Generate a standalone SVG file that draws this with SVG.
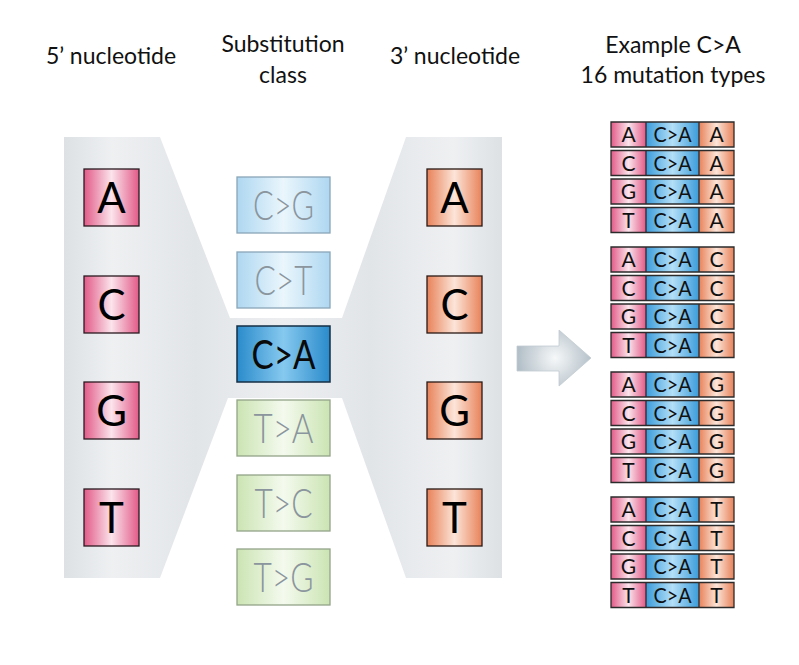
<svg xmlns="http://www.w3.org/2000/svg" width="799" height="665" viewBox="0 0 799 665">
<defs>
<linearGradient id="bg" gradientUnits="userSpaceOnUse" x1="64" y1="0" x2="502" y2="0">
<stop offset="0" stop-color="#dde1e4"/>
<stop offset="0.11" stop-color="#eef0f2"/>
<stop offset="0.3" stop-color="#e2e5e8"/>
<stop offset="0.5" stop-color="#eceef0"/>
<stop offset="0.7" stop-color="#e2e5e8"/>
<stop offset="0.89" stop-color="#eef0f2"/>
<stop offset="1" stop-color="#dde1e4"/>
</linearGradient>
<linearGradient id="pink" x1="0" y1="0" x2="1" y2="0">
<stop offset="0" stop-color="#e25a87"/>
<stop offset="0.5" stop-color="#fbe4ec"/>
<stop offset="1" stop-color="#e25a87"/>
</linearGradient>
<linearGradient id="orange" x1="0" y1="0" x2="1" y2="0">
<stop offset="0" stop-color="#e8825a"/>
<stop offset="0.5" stop-color="#fce5d8"/>
<stop offset="1" stop-color="#e8825a"/>
</linearGradient>
<linearGradient id="lblue" x1="0" y1="0" x2="1" y2="0">
<stop offset="0" stop-color="#aed7f1"/>
<stop offset="0.5" stop-color="#eaf6fc"/>
<stop offset="1" stop-color="#aed7f1"/>
</linearGradient>
<linearGradient id="dblue" x1="0" y1="0" x2="1" y2="0">
<stop offset="0" stop-color="#2a8bcb"/>
<stop offset="0.5" stop-color="#86c9ef"/>
<stop offset="1" stop-color="#2a8bcb"/>
</linearGradient>
<linearGradient id="green" x1="0" y1="0" x2="1" y2="0">
<stop offset="0" stop-color="#cbe4b3"/>
<stop offset="0.5" stop-color="#f4faee"/>
<stop offset="1" stop-color="#cbe4b3"/>
</linearGradient>
<linearGradient id="tblue" x1="0" y1="0" x2="1" y2="0">
<stop offset="0" stop-color="#3b9cda"/>
<stop offset="0.5" stop-color="#b3dff7"/>
<stop offset="1" stop-color="#3b9cda"/>
</linearGradient>
<radialGradient id="arr" gradientUnits="userSpaceOnUse" cx="555" cy="358" r="40">
<stop offset="0" stop-color="#f6f8f9"/>
<stop offset="1" stop-color="#aebbc4"/>
</radialGradient>
</defs>
<style>
.title{font-family:"Lato","Open Sans","Liberation Sans",sans-serif;font-size:23px;fill:#111;text-anchor:middle}
.big{font-family:"Lato","Open Sans","Liberation Sans",sans-serif;font-size:42px;fill:#000;text-anchor:middle}
.sub{font-family:"Lato","Open Sans","Liberation Sans",sans-serif;font-weight:300;font-size:41px;fill:#8a959d;text-anchor:middle}
.subA{font-family:"Lato","Open Sans","Liberation Sans",sans-serif;font-size:41px;fill:#0a0a0a;text-anchor:middle}
.tt{font-family:"Lato","Open Sans","Liberation Sans",sans-serif;font-size:21px;fill:#111;text-anchor:middle}
.p{fill:url(#pink);stroke:#2a1a20;stroke-width:1.3}
.o{fill:url(#orange);stroke:#2a1a15;stroke-width:1.3}
.lb{fill:url(#lblue);stroke:#8aa5b8;stroke-width:1.3}
.db{fill:url(#dblue);stroke:#152f45;stroke-width:1.5}
.g{fill:url(#green);stroke:#93a488;stroke-width:1.3}
.tp{fill:url(#pink)}
.to{fill:url(#orange)}
.tb{fill:url(#tblue)}
.frame{fill:none;stroke:#2b2b2b;stroke-width:1.3}
</style>
<rect width="799" height="665" fill="#ffffff"/>
<polygon id="background" points="64,137 160,137 230,318 342,318 406,137 502,137 502,578 406,578 342,398 228,398 160,578 64,578" fill="url(#bg)"/>
<g id="titles">
<text class="title" x="111" y="64">5’ nucleotide</text>
<text class="title" x="283" y="52">Substitution</text>
<text class="title" x="283" y="83">class</text>
<text class="title" x="455" y="64">3’ nucleotide</text>
<text class="title" x="673" y="53">Example C&gt;A</text>
<text class="title" x="673" y="83">16 mutation types</text>
</g>
<g id="five-prime">
<g id="n5A"><rect class="p" x="84" y="169" width="55" height="57"/><text class="big" x="111.5" y="213">A</text></g>
<g id="n5C"><rect class="p" x="84" y="276" width="55" height="57"/><text class="big" x="111.5" y="320">C</text></g>
<g id="n5G"><rect class="p" x="84" y="382" width="55" height="57"/><text class="big" x="111.5" y="426">G</text></g>
<g id="n5T"><rect class="p" x="84" y="489" width="55" height="57"/><text class="big" x="111.5" y="533">T</text></g>
</g>
<g id="three-prime">
<g id="n3A"><rect class="o" x="427" y="169" width="55" height="57"/><text class="big" x="454.5" y="213">A</text></g>
<g id="n3C"><rect class="o" x="427" y="276" width="55" height="57"/><text class="big" x="454.5" y="320">C</text></g>
<g id="n3G"><rect class="o" x="427" y="382" width="55" height="57"/><text class="big" x="454.5" y="426">G</text></g>
<g id="n3T"><rect class="o" x="427" y="489" width="55" height="57"/><text class="big" x="454.5" y="533">T</text></g>
</g>
<g id="substitutions">
<g id="sCG"><rect class="lb" x="237" y="177" width="93" height="56"/><text class="sub" x="283.5" y="220" textLength="61" lengthAdjust="spacingAndGlyphs">C&gt;G</text></g>
<g id="sCT"><rect class="lb" x="237" y="252" width="93" height="56"/><text class="sub" x="283.5" y="295" textLength="58" lengthAdjust="spacingAndGlyphs">C&gt;T</text></g>
<g id="sCA"><rect class="db" x="237" y="326" width="93" height="56"/><text class="subA" x="283.5" y="369" textLength="64" lengthAdjust="spacingAndGlyphs">C&gt;A</text></g>
<g id="sTA"><rect class="g" x="237" y="400" width="93" height="56"/><text class="sub" x="283.5" y="443" textLength="60" lengthAdjust="spacingAndGlyphs">T&gt;A</text></g>
<g id="sTC"><rect class="g" x="237" y="475" width="93" height="56"/><text class="sub" x="283.5" y="518" textLength="58" lengthAdjust="spacingAndGlyphs">T&gt;C</text></g>
<g id="sTG"><rect class="g" x="237" y="549" width="93" height="56"/><text class="sub" x="283.5" y="592" textLength="60" lengthAdjust="spacingAndGlyphs">T&gt;G</text></g>
</g>
<g id="connectors">
<polygon id="arrow" points="517,346 559,346 559,330 591,358 559,386 559,371 517,371" fill="url(#arr)" stroke="#c2ccd2" stroke-width="0.8"/>
</g>
<g id="mutation-table">
<g id="r1"><rect class="tp" x="611" y="122" width="35" height="25"/><rect class="tb" x="646" y="122" width="53" height="25"/><rect class="to" x="699" y="122" width="35" height="25"/><path class="frame" d="M611,122h123v25h-123zM646,122v25M699,122v25"/><text class="tt" x="628.5" y="142">A</text><text class="tt" x="672.5" y="142" textLength="38" lengthAdjust="spacingAndGlyphs">C&gt;A</text><text class="tt" x="716.5" y="142">A</text></g>
<g id="r2"><rect class="tp" x="611" y="150.5" width="35" height="25"/><rect class="tb" x="646" y="150.5" width="53" height="25"/><rect class="to" x="699" y="150.5" width="35" height="25"/><path class="frame" d="M611,150.5h123v25h-123zM646,150.5v25M699,150.5v25"/><text class="tt" x="628.5" y="170.5">C</text><text class="tt" x="672.5" y="170.5" textLength="38" lengthAdjust="spacingAndGlyphs">C&gt;A</text><text class="tt" x="716.5" y="170.5">A</text></g>
<g id="r3"><rect class="tp" x="611" y="179" width="35" height="25"/><rect class="tb" x="646" y="179" width="53" height="25"/><rect class="to" x="699" y="179" width="35" height="25"/><path class="frame" d="M611,179h123v25h-123zM646,179v25M699,179v25"/><text class="tt" x="628.5" y="199">G</text><text class="tt" x="672.5" y="199" textLength="38" lengthAdjust="spacingAndGlyphs">C&gt;A</text><text class="tt" x="716.5" y="199">A</text></g>
<g id="r4"><rect class="tp" x="611" y="207.5" width="35" height="25"/><rect class="tb" x="646" y="207.5" width="53" height="25"/><rect class="to" x="699" y="207.5" width="35" height="25"/><path class="frame" d="M611,207.5h123v25h-123zM646,207.5v25M699,207.5v25"/><text class="tt" x="628.5" y="227.5">T</text><text class="tt" x="672.5" y="227.5" textLength="38" lengthAdjust="spacingAndGlyphs">C&gt;A</text><text class="tt" x="716.5" y="227.5">A</text></g>

<g id="r5"><rect class="tp" x="611" y="247" width="35" height="25"/><rect class="tb" x="646" y="247" width="53" height="25"/><rect class="to" x="699" y="247" width="35" height="25"/><path class="frame" d="M611,247h123v25h-123zM646,247v25M699,247v25"/><text class="tt" x="628.5" y="267">A</text><text class="tt" x="672.5" y="267" textLength="38" lengthAdjust="spacingAndGlyphs">C&gt;A</text><text class="tt" x="716.5" y="267">C</text></g>
<g id="r6"><rect class="tp" x="611" y="275.5" width="35" height="25"/><rect class="tb" x="646" y="275.5" width="53" height="25"/><rect class="to" x="699" y="275.5" width="35" height="25"/><path class="frame" d="M611,275.5h123v25h-123zM646,275.5v25M699,275.5v25"/><text class="tt" x="628.5" y="295.5">C</text><text class="tt" x="672.5" y="295.5" textLength="38" lengthAdjust="spacingAndGlyphs">C&gt;A</text><text class="tt" x="716.5" y="295.5">C</text></g>
<g id="r7"><rect class="tp" x="611" y="304" width="35" height="25"/><rect class="tb" x="646" y="304" width="53" height="25"/><rect class="to" x="699" y="304" width="35" height="25"/><path class="frame" d="M611,304h123v25h-123zM646,304v25M699,304v25"/><text class="tt" x="628.5" y="324">G</text><text class="tt" x="672.5" y="324" textLength="38" lengthAdjust="spacingAndGlyphs">C&gt;A</text><text class="tt" x="716.5" y="324">C</text></g>
<g id="r8"><rect class="tp" x="611" y="332.5" width="35" height="25"/><rect class="tb" x="646" y="332.5" width="53" height="25"/><rect class="to" x="699" y="332.5" width="35" height="25"/><path class="frame" d="M611,332.5h123v25h-123zM646,332.5v25M699,332.5v25"/><text class="tt" x="628.5" y="352.5">T</text><text class="tt" x="672.5" y="352.5" textLength="38" lengthAdjust="spacingAndGlyphs">C&gt;A</text><text class="tt" x="716.5" y="352.5">C</text></g>

<g id="r9"><rect class="tp" x="611" y="372" width="35" height="25"/><rect class="tb" x="646" y="372" width="53" height="25"/><rect class="to" x="699" y="372" width="35" height="25"/><path class="frame" d="M611,372h123v25h-123zM646,372v25M699,372v25"/><text class="tt" x="628.5" y="392">A</text><text class="tt" x="672.5" y="392" textLength="38" lengthAdjust="spacingAndGlyphs">C&gt;A</text><text class="tt" x="716.5" y="392">G</text></g>
<g id="r10"><rect class="tp" x="611" y="400.5" width="35" height="25"/><rect class="tb" x="646" y="400.5" width="53" height="25"/><rect class="to" x="699" y="400.5" width="35" height="25"/><path class="frame" d="M611,400.5h123v25h-123zM646,400.5v25M699,400.5v25"/><text class="tt" x="628.5" y="420.5">C</text><text class="tt" x="672.5" y="420.5" textLength="38" lengthAdjust="spacingAndGlyphs">C&gt;A</text><text class="tt" x="716.5" y="420.5">G</text></g>
<g id="r11"><rect class="tp" x="611" y="429" width="35" height="25"/><rect class="tb" x="646" y="429" width="53" height="25"/><rect class="to" x="699" y="429" width="35" height="25"/><path class="frame" d="M611,429h123v25h-123zM646,429v25M699,429v25"/><text class="tt" x="628.5" y="449">G</text><text class="tt" x="672.5" y="449" textLength="38" lengthAdjust="spacingAndGlyphs">C&gt;A</text><text class="tt" x="716.5" y="449">G</text></g>
<g id="r12"><rect class="tp" x="611" y="457.5" width="35" height="25"/><rect class="tb" x="646" y="457.5" width="53" height="25"/><rect class="to" x="699" y="457.5" width="35" height="25"/><path class="frame" d="M611,457.5h123v25h-123zM646,457.5v25M699,457.5v25"/><text class="tt" x="628.5" y="477.5">T</text><text class="tt" x="672.5" y="477.5" textLength="38" lengthAdjust="spacingAndGlyphs">C&gt;A</text><text class="tt" x="716.5" y="477.5">G</text></g>

<g id="r13"><rect class="tp" x="611" y="497" width="35" height="25"/><rect class="tb" x="646" y="497" width="53" height="25"/><rect class="to" x="699" y="497" width="35" height="25"/><path class="frame" d="M611,497h123v25h-123zM646,497v25M699,497v25"/><text class="tt" x="628.5" y="517">A</text><text class="tt" x="672.5" y="517" textLength="38" lengthAdjust="spacingAndGlyphs">C&gt;A</text><text class="tt" x="716.5" y="517">T</text></g>
<g id="r14"><rect class="tp" x="611" y="525.5" width="35" height="25"/><rect class="tb" x="646" y="525.5" width="53" height="25"/><rect class="to" x="699" y="525.5" width="35" height="25"/><path class="frame" d="M611,525.5h123v25h-123zM646,525.5v25M699,525.5v25"/><text class="tt" x="628.5" y="545.5">C</text><text class="tt" x="672.5" y="545.5" textLength="38" lengthAdjust="spacingAndGlyphs">C&gt;A</text><text class="tt" x="716.5" y="545.5">T</text></g>
<g id="r15"><rect class="tp" x="611" y="554" width="35" height="25"/><rect class="tb" x="646" y="554" width="53" height="25"/><rect class="to" x="699" y="554" width="35" height="25"/><path class="frame" d="M611,554h123v25h-123zM646,554v25M699,554v25"/><text class="tt" x="628.5" y="574">G</text><text class="tt" x="672.5" y="574" textLength="38" lengthAdjust="spacingAndGlyphs">C&gt;A</text><text class="tt" x="716.5" y="574">T</text></g>
<g id="r16"><rect class="tp" x="611" y="582.5" width="35" height="25"/><rect class="tb" x="646" y="582.5" width="53" height="25"/><rect class="to" x="699" y="582.5" width="35" height="25"/><path class="frame" d="M611,582.5h123v25h-123zM646,582.5v25M699,582.5v25"/><text class="tt" x="628.5" y="602.5">T</text><text class="tt" x="672.5" y="602.5" textLength="38" lengthAdjust="spacingAndGlyphs">C&gt;A</text><text class="tt" x="716.5" y="602.5">T</text></g>
</g>
</svg>
